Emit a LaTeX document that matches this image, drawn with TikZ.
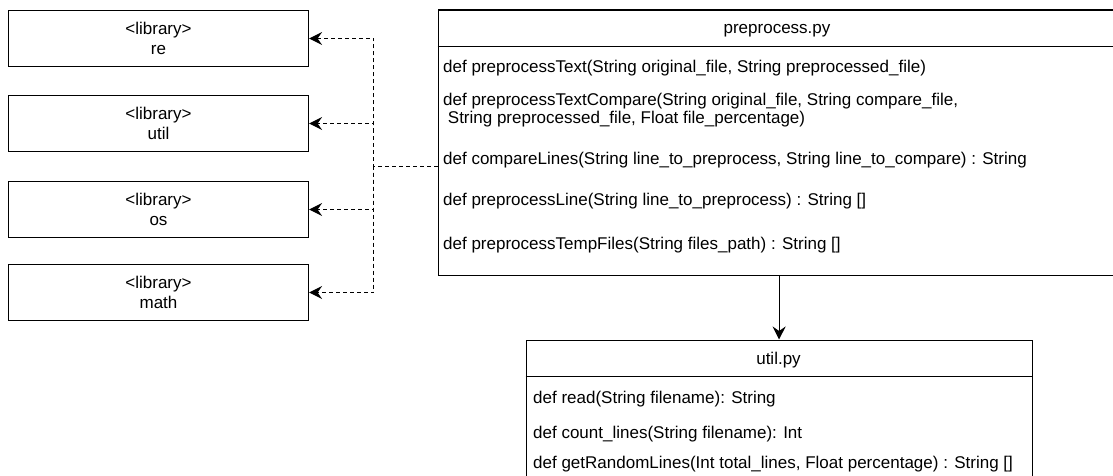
\documentclass[tikz,border=0pt]{standalone}
\usepackage{fontspec}
\setmainfont{Liberation Sans}
\usetikzlibrary{arrows.meta}
\tikzset{
  box/.style={draw=black, line width=1.2pt, fill=white, inner sep=0pt},
  libbox/.style={box, minimum width=300pt, minimum height=56pt, align=center,
    font=\fontsize{17}{20}\selectfont},
  txt/.style={inner sep=0pt, anchor=base west, font=\fontsize{17}{18}\selectfont},
  htxt/.style={inner sep=0pt, anchor=base, font=\fontsize{17}{18}\selectfont},
  dep/.style={draw=black, line width=1.2pt, dash pattern=on 4pt off 3pt,
    -{Stealth[length=13pt,width=13pt,inset=4.5pt]}},
  arr/.style={draw=black, line width=1.2pt, -{Stealth[length=13pt,width=13pt,inset=4.5pt]}},
  plain/.style={draw=black, line width=1.2pt}
}
\begin{document}
\begin{tikzpicture}[x=1pt,y=-1pt]
\useasboundingbox (0,0) rectangle (1113,476);
% libraries
\node[libbox] (re)   at (158.5,38.5)  {<library>\\re};
\node[libbox] (utl)  at (158.5,123.5) {<library>\\util};
\node[libbox] (os)   at (158.5,209.5) {<library>\\os};
\node[libbox] (math) at (158.5,292.5) {<library>\\math};
% preprocess.py
\node[box, minimum width=677pt, minimum height=265pt, anchor=north west] (pre) at (437.5,9.5) {};
\coordinate (preh1) at (437.5,46.5);
\coordinate (preh2) at (1114.5,46.5);
\draw[plain] (preh1) -- (preh2);
\node[htxt] (preT) at (777,33.5) {preprocess.py};
\node[txt] (m1) at (443,73) {def preprocessText(String original\_file, String preprocessed\_file)};
\node[txt] (m2a) at (443,106) {def preprocessTextCompare(String original\_file, String compare\_file,};
\node[txt] (m2b) at (443,124) {\ String preprocessed\_file, Float file\_percentage)};
\node[txt] (m3) at (443,164.5) {def compareLines(String line\_to\_preprocess, String line\_to\_compare) : String};
\node[txt] (m4) at (443,205) {def preprocessLine(String line\_to\_preprocess) : String []};
\node[txt] (m5) at (443,249) {def preprocessTempFiles(String files\_path) : String []};
% util.py
\node[box, minimum width=506pt, minimum height=145pt, anchor=north west] (util) at (525.5,339.5) {};
\coordinate (uh1) at (525.5,376.5);
\coordinate (uh2) at (1031.5,376.5);
\draw[plain] (uh1) -- (uh2);
\node[htxt] (utT) at (778.5,364) {util.py};
\node[txt] (u1) at (533,403) {def read(String filename): String};
\node[txt] (u2) at (533,438) {def count\_lines(String filename): Int};
\node[txt] (u3) at (533,468) {def getRandomLines(Int total\_lines, Float percentage) : String []};
% connectors
\coordinate (src) at (437.5,166.5);
\coordinate (j) at (373.5,166.5);
\draw[dep] (src) -- (j) |- (re.east);
\draw[dep] (src) -- (j) |- (utl.east);
\draw[dep] (src) -- (j) |- (os.east);
\draw[dep] (src) -- (j) |- (math.east);
\draw[arr] (util.north |- pre.south) -- (util.north);
\end{tikzpicture}
\end{document}
